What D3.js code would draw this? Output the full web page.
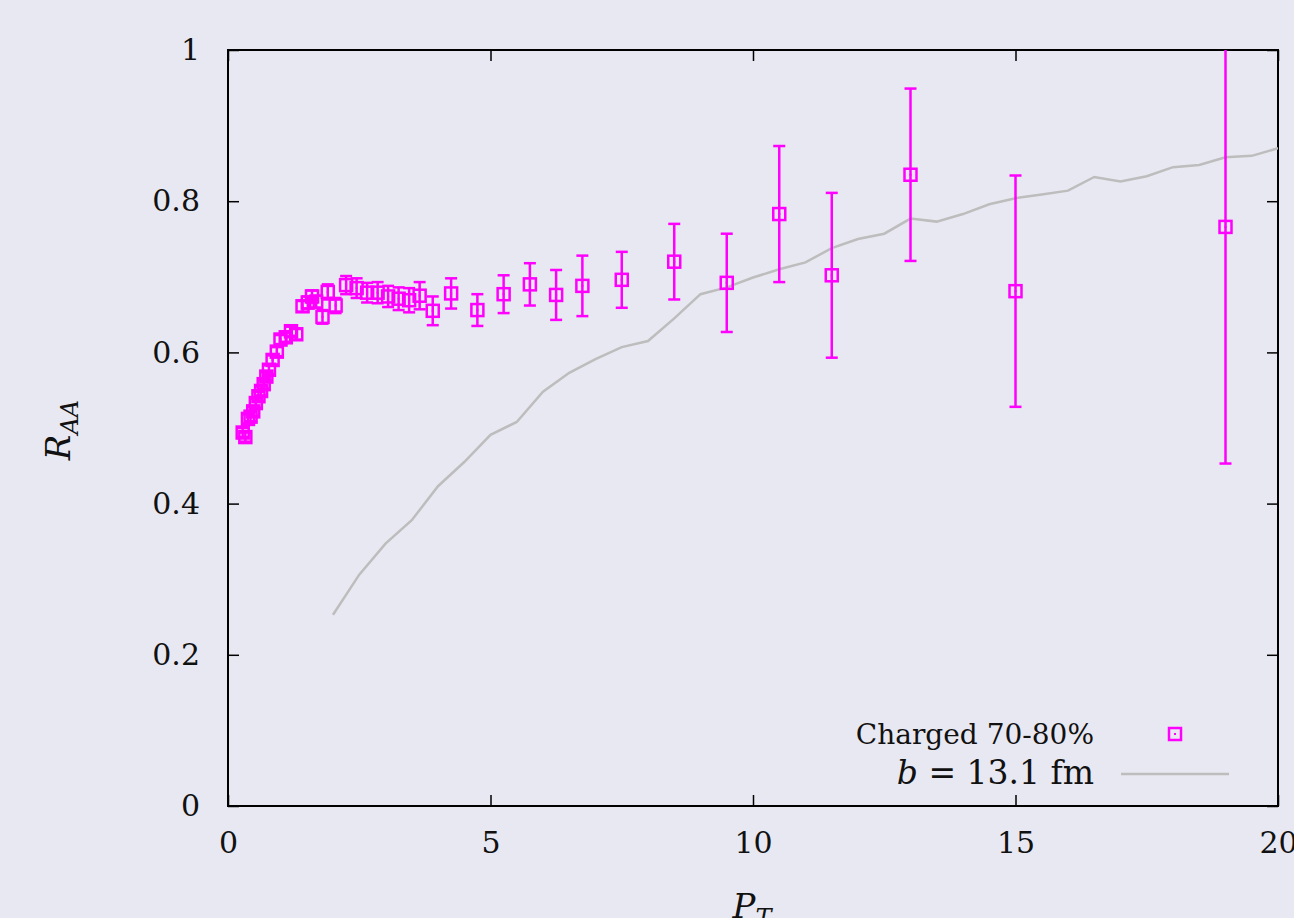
<!DOCTYPE html>
<html>
<head>
<meta charset="utf-8">
<script src="https://cdn.jsdelivr.net/npm/d3@7"></script>
<style>
  body { margin: 0; background: #e8e8f2; }
  text { font-family: "DejaVu Serif", "Liberation Serif", serif; fill: #111; }
</style>
</head>
<body>
<div id="chart"></div>
<script>
// data
var ptData = [0.28, 0.33, 0.38, 0.43, 0.48, 0.53, 0.58, 0.63, 0.68, 0.73, 0.78, 0.85, 0.93, 1.0,
  1.1, 1.2, 1.3, 1.42, 1.52, 1.6, 1.68, 1.8, 1.9, 2.05, 2.25, 2.45, 2.65, 2.85, 3.05, 3.25,
  3.45, 3.65, 3.9, 4.25, 4.75, 5.25, 5.75, 6.25, 6.75, 7.5, 8.5, 9.5, 10.5, 11.5, 13.0, 15.0, 19.0];
var raaData = [0.494, 0.488, 0.512, 0.515, 0.522, 0.533, 0.542, 0.549, 0.558, 0.568, 0.577, 0.59, 0.601, 0.617,
  0.62, 0.628, 0.624, 0.661, 0.666, 0.674, 0.667, 0.647, 0.68, 0.662, 0.689, 0.685, 0.679, 0.679, 0.674, 0.671,
  0.669, 0.675, 0.655, 0.678, 0.656, 0.677, 0.69, 0.676, 0.688, 0.696, 0.72, 0.692, 0.783, 0.702, 0.835, 0.681, 0.766];
var errData = [0.006, 0.006, 0.006, 0.006, 0.006, 0.006, 0.006, 0.006, 0.006, 0.006, 0.006, 0.006, 0.006, 0.006,
  0.006, 0.006, 0.007, 0.007, 0.008, 0.008, 0.008, 0.009, 0.01, 0.01, 0.012, 0.013, 0.013, 0.014, 0.014, 0.015,
  0.016, 0.018, 0.019, 0.02, 0.021, 0.025, 0.028, 0.033, 0.04, 0.037, 0.05, 0.065, 0.09, 0.109, 0.114, 0.153, 0.313];

var modelPt = [2.0, 2.5, 3.0, 3.5, 4.0, 4.5, 5.0, 5.5, 6.0, 6.5, 7.0, 7.5, 8.0, 8.5, 9.0, 9.5, 10.0,
  10.5, 11.0, 11.5, 12.0, 12.5, 13.0, 13.5, 14.0, 14.5, 15.0, 15.5, 16.0, 16.5, 17.0, 17.5, 18.0, 18.5, 19.0, 19.5, 20.0];
var modelRaa = [0.253, 0.306, 0.347, 0.378, 0.423, 0.455, 0.491, 0.508, 0.548, 0.573, 0.591, 0.607, 0.615, 0.645, 0.677, 0.686, 0.699,
  0.71, 0.719, 0.738, 0.75, 0.757, 0.777, 0.773, 0.783, 0.796, 0.804, 0.809, 0.814, 0.832, 0.826, 0.833, 0.845, 0.848, 0.858, 0.86, 0.87];

var xTicks = [0, 5, 10, 15, 20];
var yTicks = [0, 0.2, 0.4, 0.6, 0.8, 1];

var svgWidth = 1294;
var svgHeight = 918;
var margin = { top: 50, left: 228, right: 16, bottom: 112 };
var width = svgWidth - margin.left - margin.right;
var height = svgHeight - margin.top - margin.bottom;

var svg = d3.select("#chart")
  .append("svg")
  .attr("width", svgWidth)
  .attr("height", svgHeight);

var chartGroup = svg.append("g")
  .attr("transform", `translate(${margin.left}, ${margin.top})`);

var xScale = d3.scaleLinear().domain([0, 20]).range([0, width]);
var yScale = d3.scaleLinear().domain([0, 1]).range([height, 0]);

svg.append("defs").append("clipPath").attr("id", "clip")
  .append("rect").attr("width", width).attr("height", height);

// axes with inward ticks
var tick = 11;
function styleAxis(g, showText) {
  g.select(".domain").remove();
  g.selectAll(".tick line").attr("stroke", "#000").attr("stroke-width", 1.5);
  g.selectAll(".tick text").style("font-size", "30px");
  if (!showText) g.selectAll(".tick text").remove();
}

chartGroup.append("g")
  .attr("transform", `translate(0, ${height})`)
  .call(d3.axisBottom(xScale).tickValues(xTicks).tickSizeInner(-tick).tickSizeOuter(0).tickPadding(26).tickFormat(d3.format("d")))
  .call(g => styleAxis(g, true));
chartGroup.append("g")
  .call(d3.axisTop(xScale).tickValues(xTicks).tickSizeInner(-tick).tickSizeOuter(0))
  .call(g => styleAxis(g, false));
chartGroup.append("g")
  .call(d3.axisLeft(yScale).tickValues(yTicks).tickSizeInner(-tick).tickSizeOuter(0).tickPadding(28).tickFormat(d => d === 0 || d === 1 ? d : d3.format(".1f")(d)))
  .call(g => styleAxis(g, true));
chartGroup.append("g")
  .attr("transform", `translate(${width}, 0)`)
  .call(d3.axisRight(yScale).tickValues(yTicks).tickSizeInner(-tick).tickSizeOuter(0))
  .call(g => styleAxis(g, false));

chartGroup.append("rect")
  .attr("width", width)
  .attr("height", height)
  .attr("fill", "none")
  .attr("stroke", "#000")
  .attr("stroke-width", 2);

var plot = chartGroup.append("g").attr("clip-path", "url(#clip)");

// model line
var line = d3.line().x(d => xScale(d[0])).y(d => yScale(d[1]));
plot.append("path")
  .datum(modelPt.map((p, i) => [p, modelRaa[i]]))
  .attr("d", line)
  .attr("fill", "none")
  .attr("stroke", "#bdbdbd")
  .attr("stroke-width", 2.5);

// data with error bars
var pink = "#ff00ff";
var points = ptData.map((p, i) => ({ pt: p, raa: raaData[i], err: errData[i] }));
var cap = 6;
var bars = plot.selectAll("g.pt").data(points).enter().append("g").attr("class", "pt");
bars.append("line")
  .attr("x1", d => xScale(d.pt)).attr("x2", d => xScale(d.pt))
  .attr("y1", d => yScale(d.raa - d.err)).attr("y2", d => yScale(d.raa + d.err))
  .attr("stroke", pink).attr("stroke-width", 2.5);
bars.append("line")
  .attr("x1", d => xScale(d.pt) - cap).attr("x2", d => xScale(d.pt) + cap)
  .attr("y1", d => yScale(d.raa + d.err)).attr("y2", d => yScale(d.raa + d.err))
  .attr("stroke", pink).attr("stroke-width", 2.5);
bars.append("line")
  .attr("x1", d => xScale(d.pt) - cap).attr("x2", d => xScale(d.pt) + cap)
  .attr("y1", d => yScale(d.raa - d.err)).attr("y2", d => yScale(d.raa - d.err))
  .attr("stroke", pink).attr("stroke-width", 2.5);
bars.append("rect")
  .attr("x", d => xScale(d.pt) - 6).attr("y", d => yScale(d.raa) - 6)
  .attr("width", 12).attr("height", 12)
  .attr("fill", "none").attr("stroke", pink).attr("stroke-width", 2.5);
bars.append("rect")
  .attr("x", d => xScale(d.pt) - 1).attr("y", d => yScale(d.raa) - 1)
  .attr("width", 2).attr("height", 2)
  .attr("fill", pink);

// legend
var legend = svg.append("g");
legend.append("text")
  .attr("x", 1094).attr("y", 744)
  .attr("text-anchor", "end")
  .style("font-size", "28px")
  .text("Charged 70-80%");
legend.append("rect")
  .attr("x", 1169).attr("y", 728).attr("width", 12).attr("height", 12)
  .attr("fill", "none").attr("stroke", pink).attr("stroke-width", 2.5);
legend.append("rect")
  .attr("x", 1174).attr("y", 733).attr("width", 2).attr("height", 2).attr("fill", pink);
var lt = legend.append("text")
  .attr("x", 1094).attr("y", 784)
  .attr("text-anchor", "end")
  .style("font-size", "33px");
lt.append("tspan").style("font-style", "italic").text("b");
lt.append("tspan").text(" = 13.1 fm");
legend.append("line")
  .attr("x1", 1121).attr("x2", 1229).attr("y1", 774).attr("y2", 774)
  .attr("stroke", "#bdbdbd").attr("stroke-width", 2.5);

// axis titles
var xl = svg.append("text")
  .attr("x", 752).attr("y", 918)
  .attr("text-anchor", "middle")
  .style("font-size", "34px")
  .style("font-style", "italic");
xl.append("tspan").text("P");
xl.append("tspan").attr("dy", 8).style("font-size", "24px").text("T");

var yl = svg.append("text")
  .attr("transform", "translate(70, 430) rotate(-90)")
  .attr("text-anchor", "middle")
  .style("font-size", "34px")
  .style("font-style", "italic");
yl.append("tspan").text("R");
yl.append("tspan").attr("dy", 8).style("font-size", "24px").text("AA");
</script>
</body>
</html>
